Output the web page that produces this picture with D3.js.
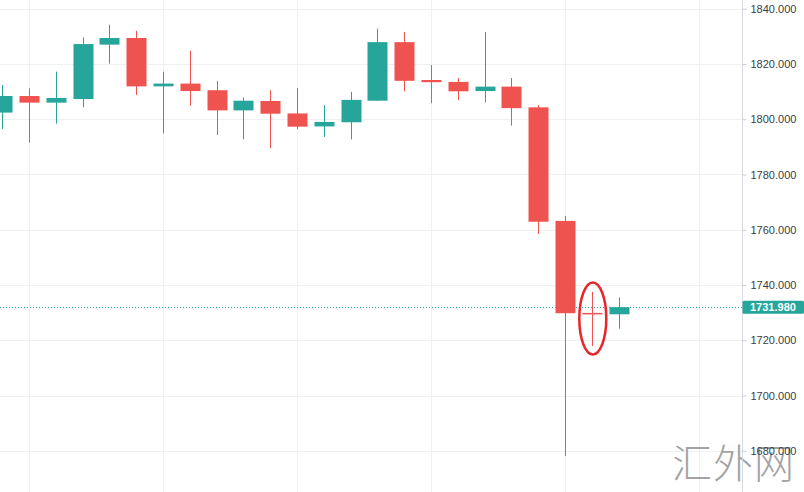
<!DOCTYPE html>
<html>
<head>
<meta charset="utf-8">
<script src="https://cdn.jsdelivr.net/npm/d3@7"></script>
<style>
  html, body { margin: 0; padding: 0; background: #ffffff; }
  svg { display: block; }
</style>
</head>
<body>
<svg id="chart" width="804" height="492"></svg>
<script>
// ---- data ----
const categories = d3.range(24).map(i => "K" + (i + 1));
const openVals  = [1802.4, 1808.4, 1806.0, 1807.3, 1827.0, 1829.4, 1811.9, 1812.9, 1810.5, 1803.2, 1806.6, 1802.1, 1797.4, 1798.9, 1806.7, 1827.9, 1814.2, 1813.5, 1810.2, 1811.8, 1804.3, 1763.2, 1729.9, 1729.4];
const highVals  = [1812.4, 1811.2, 1817.2, 1829.6, 1834.2, 1832.0, 1817.2, 1824.8, 1813.9, 1807.9, 1810.5, 1811.3, 1805.1, 1809.9, 1832.8, 1831.6, 1819.6, 1814.9, 1831.6, 1814.9, 1805.1, 1765.0, 1737.5, 1735.5];
const lowVals   = [1796.4, 1791.5, 1798.4, 1804.3, 1820.1, 1808.8, 1794.9, 1804.9, 1794.3, 1792.7, 1789.5, 1796.4, 1793.6, 1792.7, 1806.6, 1810.1, 1805.8, 1807.0, 1806.1, 1797.7, 1758.5, 1678.1, 1717.9, 1724.2];
const closeVals = [1808.4, 1806.0, 1807.7, 1827.2, 1829.4, 1811.9, 1812.9, 1810.2, 1803.2, 1806.7, 1802.0, 1797.3, 1799.0, 1807.0, 1827.9, 1813.9, 1813.4, 1810.1, 1811.8, 1804.0, 1762.9, 1729.8, 1729.5, 1731.98];
const priceTicks = [1680, 1700, 1720, 1740, 1760, 1780, 1800, 1820, 1840];
const timeGridIdx = [1, 6, 11, 16, 21, 26];
const lastPrice = 1731.98;
const highlightIdx = 22;
const watermark = "汇外网";

// ---- layout ----
const W = 804, H = 492, axisX = 742.5;
const svg = d3.select("#chart");
const up = "#26a69a", down = "#ef5350";

const y = d3.scaleLinear().domain([1680, 1840]).range([450.8, 8.7]);
const x = d3.scaleLinear().domain([0, categories.length - 1]).range([2.2, 618.6]);
const bodyW = 20;

const data = categories.map((c, i) => ({
  c, i, o: openVals[i], h: highVals[i], l: lowVals[i], cl: closeVals[i]
}));

// grid
svg.append("g").selectAll("line").data(priceTicks).join("line")
  .attr("x1", 0).attr("x2", axisX)
  .attr("y1", d => Math.round(y(d)) + 0.5).attr("y2", d => Math.round(y(d)) + 0.5)
  .attr("stroke", "#eef0f3").attr("stroke-width", 1);
svg.append("g").selectAll("line").data(timeGridIdx).join("line")
  .attr("x1", d => Math.round(x(d)) + 0.5).attr("x2", d => Math.round(x(d)) + 0.5)
  .attr("y1", 0).attr("y2", H)
  .attr("stroke", "#eef0f3").attr("stroke-width", 1);

// watermark
svg.append("text")
  .attr("x", 672).attr("y", 478)
  .attr("font-family", "'Noto Sans CJK SC', sans-serif")
  .attr("font-weight", 300)
  .attr("font-size", 40)
  .attr("fill", "#a3a3a3")
  .attr("letter-spacing", 1)
  .text(watermark);

// last price dotted line
svg.append("line")
  .attr("x1", 0).attr("x2", axisX)
  .attr("y1", Math.round(y(lastPrice)) + 0.5).attr("y2", Math.round(y(lastPrice)) + 0.5)
  .attr("stroke", up).attr("stroke-width", 1).attr("stroke-dasharray", "1,2");

// candles
const g = svg.append("g");
const cand = g.selectAll("g").data(data).join("g");
cand.append("line")
  .attr("x1", d => Math.round(x(d.i)) + 0.5).attr("x2", d => Math.round(x(d.i)) + 0.5)
  .attr("y1", d => y(d.h)).attr("y2", d => y(d.l))
  .attr("stroke", d => d.cl >= d.o ? up : down).attr("stroke-width", 1);
cand.append("rect")
  .attr("x", d => Math.round(x(d.i)) - bodyW / 2 + 0.5)
  .attr("width", bodyW)
  .attr("y", d => y(Math.max(d.o, d.cl)))
  .attr("height", d => Math.max(1.5, Math.abs(y(d.o) - y(d.cl))))
  .attr("fill", d => d.cl >= d.o ? up : down);

// highlight ellipse
const hd = data[highlightIdx];
svg.append("ellipse")
  .attr("cx", x(hd.i) + 1)
  .attr("cy", (y(hd.h) + y(hd.l)) / 2 - 0.5)
  .attr("rx", 13.5).attr("ry", 36)
  .attr("fill", "none").attr("stroke", "#e8262a").attr("stroke-width", 2.5);

// price axis
svg.append("rect").attr("x", axisX).attr("y", 0).attr("width", W - axisX).attr("height", H).attr("fill", "none");
const axis = d3.axisRight(y).tickValues(priceTicks).tickSize(4).tickPadding(4)
  .tickFormat(d3.format(".3f"));
const ag = svg.append("g").attr("transform", `translate(${axisX},0)`).call(axis);
ag.select(".domain").remove();
ag.selectAll(".tick line").attr("stroke", "#c9ccd1");
ag.selectAll(".tick text")
  .attr("font-family", "'Liberation Sans', Arial, sans-serif")
  .attr("font-size", 11).attr("fill", "#3a3d45");
svg.append("line").attr("x1", axisX).attr("x2", axisX).attr("y1", 0).attr("y2", H)
  .attr("stroke", "#d6d9de").attr("stroke-width", 1);

// last price label
const ly = y(lastPrice);
svg.append("rect").attr("x", axisX).attr("y", ly - 6.5).attr("width", W - axisX).attr("height", 13)
  .attr("rx", 1.5).attr("fill", up);
svg.append("text").attr("x", 750).attr("y", ly + 4)
  .attr("font-family", "'Liberation Sans', Arial, sans-serif")
  .attr("font-size", 11).attr("font-weight", "bold").attr("fill", "#ffffff")
  .text(d3.format(".3f")(lastPrice));
</script>
</body>
</html>
